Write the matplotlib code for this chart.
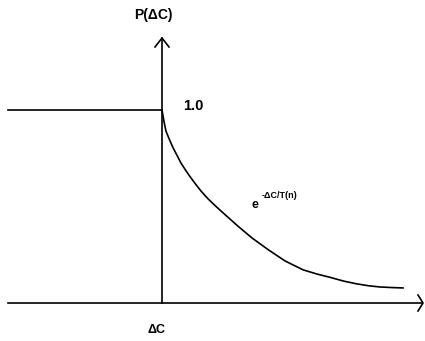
import matplotlib
matplotlib.use("Agg")
import matplotlib.pyplot as plt

# curve: x = distance right of the vertical axis, y = P(dC)
curve_x = [0, 2, 4, 8, 11, 15, 19, 24, 28, 33, 39, 46, 53, 63, 76, 90, 106,
           123, 141, 155, 168, 182, 195, 207, 218, 230, 241]
curve_y = [1.0, 0.94, 0.89, 0.84, 0.805, 0.765, 0.725, 0.685, 0.655, 0.62,
           0.58, 0.54, 0.505, 0.458, 0.398, 0.337, 0.277, 0.218, 0.172,
           0.150, 0.133, 0.113, 0.099, 0.089, 0.083, 0.080, 0.078]

# flat part left of the axis
flat_x = [-154, 0]
flat_y = [1.0, 1.0]

y_label = "P(ΔC)"
x_label = "ΔC"
one_label = "1.0"
exp_base = "e"
exp_power = "-ΔC/T(n)"

plt.rcParams['font.family'] = ['Liberation Sans', 'DejaVu Sans']

fig = plt.figure(figsize=(4.25, 3.41), dpi=100)
ax = fig.add_axes([0, 0, 1, 1])
ax.set_xlim(-162, 263)
ax.set_ylim(-38 / 193, 303 / 193)
ax.axis('off')

k = 'black'
# horizontal axis with open arrow head
ax.plot([-154, 260], [0, 0], color=k, lw=1.2)
ax.plot([256, 261, 256], [8 / 193, 0, -8 / 193], color=k, lw=1.2)
# vertical axis with open arrow head
ax.plot([0, 0], [0, 265 / 193], color=k, lw=1.2)
ax.plot([-7, 0, 7], [256 / 193, 265 / 193, 256 / 193], color=k, lw=1.2)

ax.plot(flat_x, flat_y, color=k, lw=1.2)
ax.plot(curve_x, curve_y, color=k, lw=1.2)

ax.text(-9, 288 / 193, y_label, fontsize=10, fontweight='bold', ha='center', va='center')
ax.text(31, 197 / 193, one_label, fontsize=10.5, fontweight='bold', ha='center', va='center')
ax.text(-5, -27 / 193, x_label, fontsize=9, fontweight='bold', ha='center', va='center')
ax.text(93, 98 / 193, exp_base, fontsize=9, fontweight='bold', ha='center', va='center')
ax.text(100, 108 / 193, exp_power, fontsize=6.5, fontweight='bold', ha='left', va='center')

fig.savefig("out.png", dpi=100)
